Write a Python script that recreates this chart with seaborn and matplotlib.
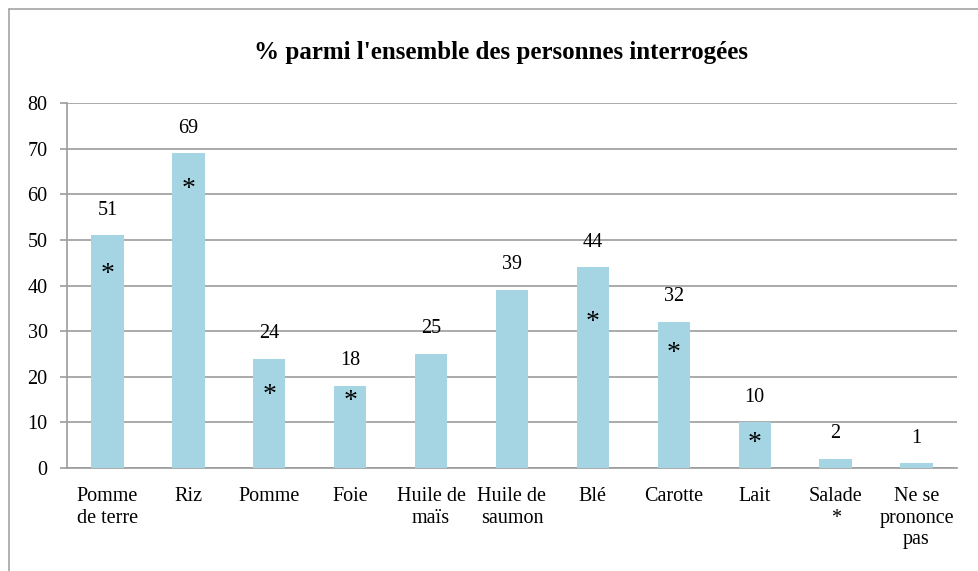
import numpy as np
import pandas as pd
import matplotlib
matplotlib.use("Agg")
import matplotlib.pyplot as plt
import seaborn as sns
from matplotlib.lines import Line2D

# Data
categories = ["Pomme\nde terre", "Riz", "Pomme", "Foie", "Huile de\nmaïs",
              "Huile de\nsaumon", "Blé", "Carotte", "Lait", "Salade\n*",
              "Ne se\nprononce\npas"]
values = [51, 69, 24, 18, 25, 39, 44, 32, 10, 2, 1]
# height (data units) of the asterisk drawn inside a bar, None = no asterisk
star_heights = [42.5, 61, 16, 14.5, None, None, 32, 25, 5.3, None, None]
y_ticks = [0, 10, 20, 30, 40, 50, 60, 70, 80]
title = "% parmi l'ensemble des personnes interrogées"

sns.set_theme(style="white")
plt.rcParams['font.family'] = ['Liberation Serif', 'DejaVu Serif']
plt.rcParams['text.color'] = 'black'
plt.rcParams['xtick.labelcolor'] = 'black'
plt.rcParams['ytick.labelcolor'] = 'black'

bar_color = "#a5d5e3"
grid_color = "#9c9c9c"

df = pd.DataFrame({"cat": categories, "val": values})

fig = plt.figure(figsize=(9.79, 5.71), dpi=100)
ax = fig.add_axes([67 / 979, 1 - 468 / 571, (957 - 67) / 979, (468 - 103) / 571])

sns.barplot(data=df, x="cat", y="val", color=bar_color, width=0.4,
            saturation=1, linewidth=0, edgecolor="none", ax=ax, zorder=3)

ax.set_ylim(0, 80)
ax.set_xlim(-0.5, len(categories) - 0.5)
ax.set_yticks(y_ticks)
ax.set_yticklabels([str(t) for t in y_ticks], fontsize=14.5)
ax.set_xlabel("")
ax.set_ylabel("")

# gridlines
ax.yaxis.grid(True, color=grid_color, linewidth=1.2, zorder=0)
ax.set_axisbelow(True)

# x ticks: labels at centres, tick marks between categories
ax.set_xticks(range(len(categories)))
ax.set_xticklabels(categories, fontsize=14.5, linespacing=1.15, va="top")
ax.set_xticks(np.arange(-0.5, len(categories), 1.0), minor=True)
ax.tick_params(axis="x", which="major", length=0, pad=14, labelcolor="black")
ax.tick_params(axis="x", which="minor", length=5, width=1.2, color=grid_color,
               direction="out")
ax.tick_params(axis="y", length=5, width=1.2, color=grid_color, pad=9,
               direction="out", left=True, labelcolor="black")

for side in ["top", "right"]:
    ax.spines[side].set_visible(False)
for side in ["left", "bottom"]:
    ax.spines[side].set_color(grid_color)
    ax.spines[side].set_linewidth(1.2)

# value labels and asterisks
for i, v in enumerate(values):
    ax.text(i, v + 5.5, str(v), ha="center", va="center", fontsize=14.5,
            color="black", zorder=4)
    if star_heights[i] is not None:
        ax.text(i, star_heights[i], "*", ha="center", va="center",
                fontsize=20, color="black", zorder=4)

fig.text(501 / 979, 1 - 52 / 571, title, ha="center", va="center",
         fontsize=18, fontweight="bold", color="black")

# outer frame of the chart area
fig.add_artist(Line2D([9 / 979, 9 / 979], [0, 1 - 9 / 571],
                      transform=fig.transFigure, color=grid_color, linewidth=1.1))
fig.add_artist(Line2D([9 / 979, 1], [1 - 9 / 571, 1 - 9 / 571],
                      transform=fig.transFigure, color=grid_color, linewidth=1.1))

fig.savefig("out.png", dpi=100)
